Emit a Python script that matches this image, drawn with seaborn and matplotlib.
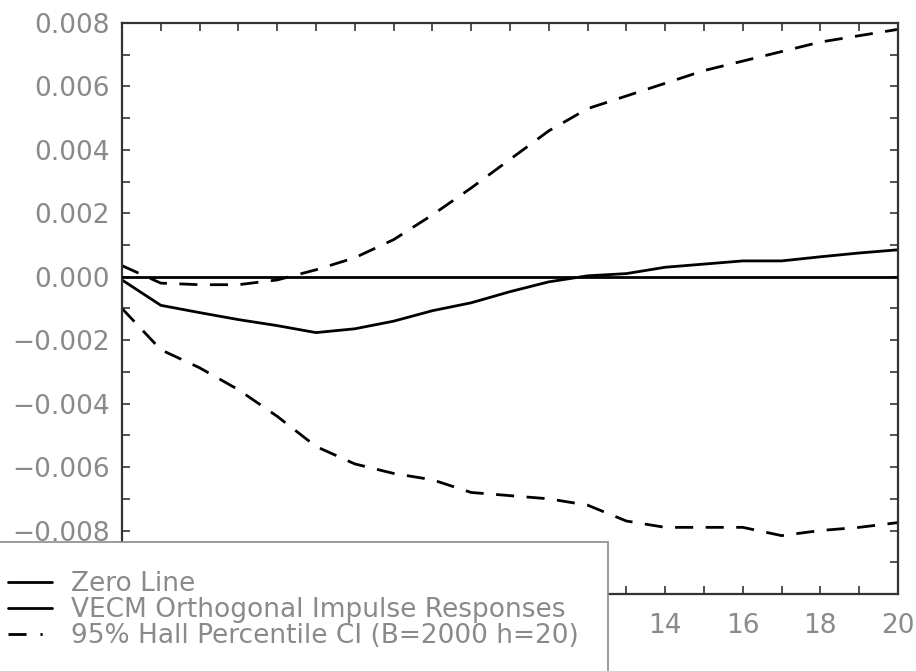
import numpy as np
import matplotlib
matplotlib.use('Agg')
import matplotlib.pyplot as plt
from matplotlib.lines import Line2D
from matplotlib.ticker import MultipleLocator, FuncFormatter
import seaborn as sns

horizon = list(range(21))
irf = [-0.0001, -0.0009, -0.00113, -0.00135, -0.00154, -0.00176, -0.00164, -0.0014,
       -0.00107, -0.00082, -0.00047, -0.00016, 0.00003, 0.0001, 0.0003, 0.0004,
       0.0005, 0.0005, 0.00063, 0.00075, 0.00085]
ci_upper = [0.00035, -0.0002, -0.00025, -0.00025, -0.0001, 0.00022, 0.0006, 0.00117,
            0.00195, 0.0028, 0.0037, 0.0046, 0.0053, 0.0057, 0.0061, 0.0065,
            0.0068, 0.0071, 0.0074, 0.0076, 0.0078]
ci_lower = [-0.001, -0.0023, -0.00287, -0.00356, -0.0044, -0.00535, -0.0059, -0.0062,
            -0.0064, -0.0068, -0.0069, -0.0070, -0.0072, -0.0077, -0.0079, -0.0079,
            -0.0079, -0.00816, -0.0080, -0.0079, -0.00775]
legend_labels = ['Zero Line', 'VECM Orthogonal Impulse Responses',
                 '95% Hall Percentile CI (B=2000 h=20)']
# tick labels that sit behind the legend box in the original are left blank
hidden_x = 12
hidden_y = -0.010

sns.set_style('ticks')
plt.rcParams['font.family'] = ['DejaVu Sans']
grey = '#8a8a8a'

fig = plt.figure(figsize=(9.16, 6.71), dpi=100)
ax = fig.add_axes([0.1332, 0.1148, 0.8471, 0.8509])

dash = (6.5, 4.5)
ax.axhline(0, color='black', lw=2, zorder=3)
sns.lineplot(x=horizon, y=irf, color='black', lw=2, ax=ax)
sns.lineplot(x=horizon, y=ci_upper, color='black', lw=2, ax=ax)
sns.lineplot(x=horizon, y=ci_lower, color='black', lw=2, ax=ax)
for ln in ax.lines[-2:]:
    ln.set_dashes(dash)


def yfmt(v, p):
    if v < hidden_y + 1e-9:
        return ''
    if abs(v) < 1e-12:
        return '0.000'
    return ('%.3f' % v).replace('-', '\u2212')


ax.set_xlim(0, 20)
ax.set_ylim(-0.010, 0.008)
ax.xaxis.set_major_locator(MultipleLocator(2))
ax.xaxis.set_minor_locator(MultipleLocator(1))
ax.xaxis.set_major_formatter(FuncFormatter(lambda v, p: '' if v <= hidden_x else '%d' % v))
ax.yaxis.set_major_locator(MultipleLocator(0.002))
ax.yaxis.set_minor_locator(MultipleLocator(0.001))
ax.yaxis.set_major_formatter(FuncFormatter(yfmt))
ax.tick_params(which='both', direction='in', top=True, right=True, length=6,
               width=1.2, color='#333333', labelsize=19, labelcolor=grey)
ax.tick_params(axis='x', pad=14)
ax.tick_params(axis='y', pad=9)
for s in ax.spines.values():
    s.set_visible(True)
    s.set_linewidth(1.6)
    s.set_color('#333333')

handles = [Line2D([], [], color='black', lw=2),
           Line2D([], [], color='black', lw=2),
           Line2D([], [], color='black', lw=2, dashes=(6.5, 5, 0.8, 20))]
leg = fig.legend(handles, legend_labels, loc='upper left',
                 bbox_to_anchor=(-21 / 916, 1 - 542 / 671), fontsize=19,
                 frameon=True, fancybox=False, framealpha=1, facecolor='white',
                 handlelength=1.65, handletextpad=0.75, borderaxespad=0,
                 borderpad=1.1, labelspacing=0.0, labelcolor=grey)
leg.get_frame().set_edgecolor(grey)
leg.get_frame().set_linewidth(1.2)
leg.set_zorder(10)

fig.savefig('out.png', dpi=100)
